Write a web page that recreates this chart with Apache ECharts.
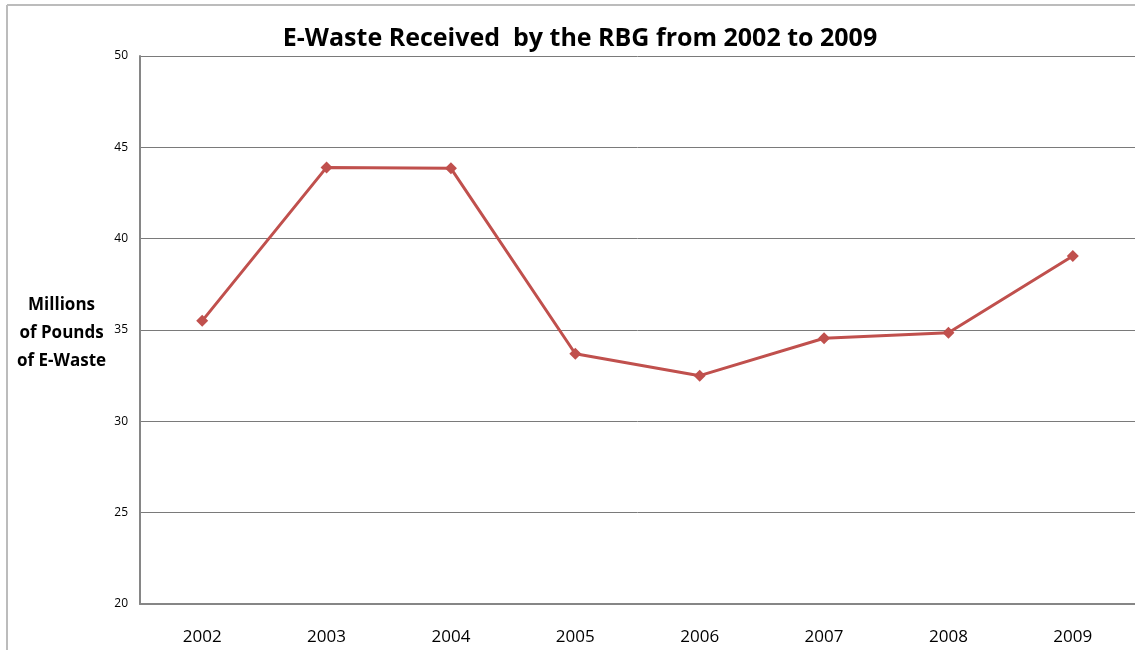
<!DOCTYPE html>
<html><head><meta charset="utf-8">
<script src="https://cdn.jsdelivr.net/npm/echarts@6/dist/echarts.min.js"></script>
<style>html,body{margin:0;padding:0;background:#fff}#c{width:1135px;height:650px}</style>
</head><body><div id="c"></div>
<script>
const years = ['2002','2003','2004','2005','2006','2007','2008','2009'];
const ewaste = [35.5, 43.9, 43.85, 33.7, 32.5, 34.55, 34.85, 39.05];
const yTicks = {min: 20, max: 50, interval: 5};

const chart = echarts.init(document.getElementById('c'));
chart.setOption({
  animation: false,
  title: {
    text: 'E-Waste Received  by the RBG from 2002 to 2009',
    left: 575, top: 21, textAlign: 'center',
    textStyle: {fontFamily: 'Open Sans', fontWeight: 'bold', fontSize: 25, color: '#000'}
  },
  graphic: [
    {type: 'line', shape: {x1: 7, y1: 5, x2: 1135, y2: 5}, style: {stroke: '#bcbcbc', lineWidth: 2}},
    {type: 'line', shape: {x1: 7, y1: 5, x2: 7, y2: 650}, style: {stroke: '#bcbcbc', lineWidth: 2}},
    {type: 'text', left: 17, top: 291, style: {
      text: 'Millions\nof Pounds\nof E-Waste', align: 'center',
      font: 'bold 17px "Open Sans"', lineHeight: 28, fill: '#000', textAlign: 'center'
    }}
  ],
  grid: {left: 140, right: -1, top: 56, bottom: 46},
  xAxis: {
    type: 'category', data: years, boundaryGap: true,
    axisLine: {lineStyle: {color: '#868686', width: 2}},
    axisTick: {show: false},
    axisLabel: {fontFamily: 'Open Sans', fontSize: 17, color: '#000', margin: 25}
  },
  yAxis: {
    type: 'value', min: yTicks.min, max: yTicks.max, interval: yTicks.interval,
    axisLine: {show: true, lineStyle: {color: '#868686', width: 2}},
    axisTick: {show: false},
    axisLabel: {fontFamily: 'Open Sans', fontSize: 12, color: '#000', margin: 12},
    splitLine: {lineStyle: {color: '#7a7a7a', width: 1}}
  },
  series: [{
    type: 'line', data: ewaste,
    lineStyle: {color: '#c0504d', width: 3},
    itemStyle: {color: '#c0504d'},
    symbol: 'diamond', symbolSize: 12
  }]
});
</script></body></html>
